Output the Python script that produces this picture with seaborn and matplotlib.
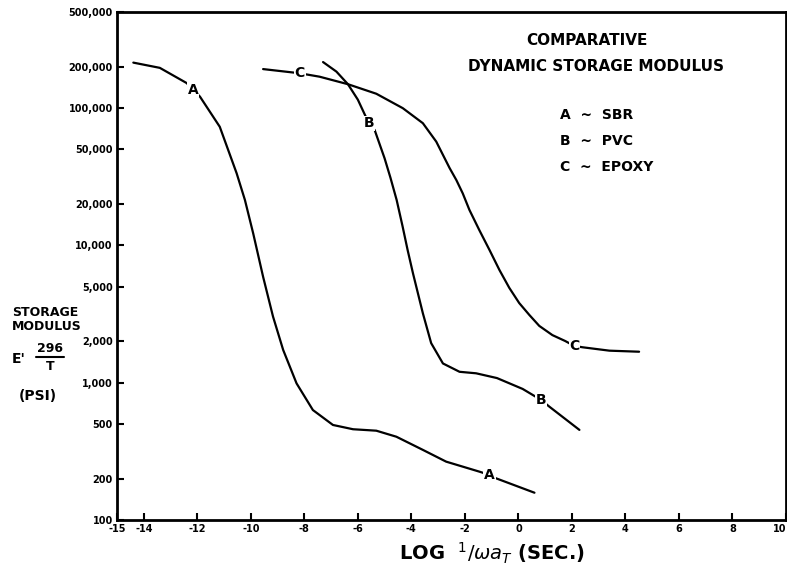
import numpy as np
import pandas as pd
import matplotlib
matplotlib.use("Agg")
import matplotlib.pyplot as plt
from matplotlib.lines import Line2D
import seaborn as sns

# ---------------- DATA ----------------
# curve A ~ SBR
a_x = [-14.39, -13.40, -12.40, -12.15, -11.90, -11.16, -10.53, -10.22, -9.91, -9.54,
       -9.17, -8.79, -8.29, -7.68, -6.93, -6.18, -5.31, -4.56, -3.57, -2.70,
       -1.46, -1.08, -0.83, 0.60]
a_y = [214000, 196000, 152000, 136000, 121000, 73000, 33500, 21400, 12200, 5900,
       3030, 1730, 988, 632, 492, 458, 447, 404, 324, 266,
       225, 213, 201, 158]

# curve B ~ PVC
b_x = [-7.30, -6.80, -6.37, -6.00, -5.59, -5.37, -5.00, -4.78, -4.55, -4.33,
       -4.14, -3.94, -3.57, -3.26, -2.82, -2.20, -1.58, -0.80, 0.16, 0.85,
       1.16, 2.28]
b_y = [216000, 184000, 149000, 115000, 77500, 69000, 43000, 31000, 21400, 13800,
       9250, 6260, 3200, 1940, 1380, 1200, 1170, 1080, 900, 748,
       668, 453]

# curve C ~ EPOXY
c_x = [-9.54, -8.17, -7.43, -6.37, -5.31, -4.32, -3.57, -3.07, -2.57, -2.32,
       -2.08, -1.83, -1.46, -1.08, -0.71, -0.34, 0.03, 0.41, 0.78, 1.27,
       1.75, 2.09, 2.40, 3.40, 4.51]
c_y = [192000, 179000, 169000, 149000, 127000, 99700, 77500, 56900, 36500, 29900,
       23900, 18100, 12900, 9250, 6620, 4900, 3800, 3110, 2590, 2220,
       2010, 1850, 1810, 1710, 1680]

# letters written on the curves
tag_text = ["A", "A", "B", "B", "C", "C"]
tag_x = [-12.15, -1.08, -5.59, 0.85, -8.17, 2.09]
tag_y = [136000, 213, 77500, 748, 179000, 1850]

x_ticks = [-15, -14, -12, -10, -8, -6, -4, -2, 0, 2, 4, 6, 8, 10]
y_ticks = [100, 200, 500, 1000, 2000, 5000, 10000, 20000, 50000, 100000, 200000, 500000]
y_tick_labels = ["100", "200", "500", "1,000", "2,000", "5,000", "10,000", "20,000",
                 "50,000", "100,000", "200,000", "500,000"]

legend_lines = ["A  ~  SBR", "B  ~  PVC", "C  ~  EPOXY"]

# ---------------- BUILD FRAME ----------------
df = pd.concat([
    pd.DataFrame({"x": a_x, "y": a_y, "curve": "A"}),
    pd.DataFrame({"x": b_x, "y": b_y, "curve": "B"}),
    pd.DataFrame({"x": c_x, "y": c_y, "curve": "C"}),
], ignore_index=True)

# ---------------- PLOT ----------------
sns.set_theme(style="ticks")
plt.rcParams["font.family"] = ["DejaVu Sans"]
plt.rcParams.update({"text.color": "black", "axes.labelcolor": "black",
                     "xtick.color": "black", "ytick.color": "black"})

fig = plt.figure(figsize=(7.87, 5.74), dpi=100)
ax = fig.add_axes([117 / 787, 54 / 574, 669 / 787, 508 / 574])

sns.lineplot(data=df, x="x", y="y", units="curve", estimator=None, sort=False,
             color="black", linewidth=1.6, ax=ax, legend=False)

ax.set_yscale("log")
ax.set_xlim(-15, 10)
ax.set_ylim(100, 500000)

ax.set_xticks(x_ticks)
ax.set_xticklabels([str(t) for t in x_ticks], fontsize=7, fontweight="bold")
ax.get_xticklabels()[-1].set_ha("right")
ax.set_yticks(y_ticks)
ax.set_yticklabels(y_tick_labels, fontsize=7, fontweight="bold")
ax.yaxis.set_minor_locator(matplotlib.ticker.NullLocator())
ax.tick_params(direction="in", length=5, width=1.5, color="black", pad=3)

for s in ax.spines.values():
    s.set_linewidth(2)
    s.set_color("black")

ax.set_xlabel(r"LOG  $^{1}/\omega a_{T}$ (SEC.)", fontsize=14, fontweight="bold")
ax.xaxis.set_label_coords(0.56, -0.04)
ax.set_ylabel("")

for t, xx, yy in zip(tag_text, tag_x, tag_y):
    ax.text(xx, yy, t, ha="center", va="center", fontsize=10, fontweight="bold",
            bbox=dict(facecolor="white", edgecolor="none", pad=0.5), zorder=5)

# title block
ax.text(0.703, 0.943, "COMPARATIVE", transform=ax.transAxes, ha="center", va="center",
        fontsize=11, fontweight="bold")
ax.text(0.716, 0.892, "DYNAMIC STORAGE MODULUS", transform=ax.transAxes, ha="center",
        va="center", fontsize=11, fontweight="bold")
for i, line in enumerate(legend_lines):
    ax.text(0.662, 0.797 - i * 0.051, line, transform=ax.transAxes, ha="left",
            va="center", fontsize=10, fontweight="bold")

# y label block on the left
fig.text(12 / 787, 1 - 312 / 574, "STORAGE", ha="left", va="center", fontsize=9, fontweight="bold")
fig.text(12 / 787, 1 - 327 / 574, "MODULUS", ha="left", va="center", fontsize=9, fontweight="bold")
fig.text(12 / 787, 1 - 359 / 574, "E'", ha="left", va="center", fontsize=10, fontweight="bold")
fig.text(50 / 787, 1 - 349 / 574, "296", ha="center", va="center", fontsize=9, fontweight="bold")
fig.text(50 / 787, 1 - 367 / 574, "T", ha="center", va="center", fontsize=9, fontweight="bold")
fig.add_artist(Line2D([36 / 787, 64 / 787], [1 - 357 / 574, 1 - 357 / 574],
                      transform=fig.transFigure, color="black", linewidth=1.5))
fig.text(38 / 787, 1 - 396 / 574, "(PSI)", ha="center", va="center", fontsize=10, fontweight="bold")

plt.savefig("out.png", dpi=100)
plt.close()
